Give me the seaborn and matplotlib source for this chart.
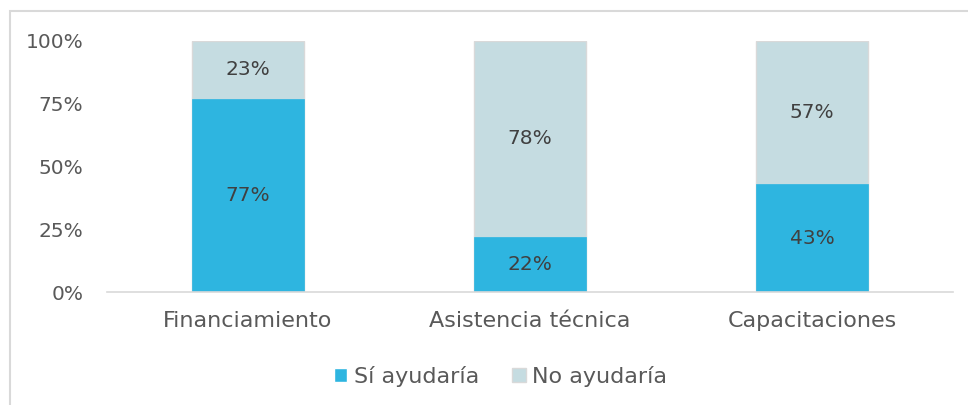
import matplotlib
matplotlib.use("Agg")
import matplotlib.pyplot as plt
import matplotlib.patches as mpatches
import seaborn as sns
import pandas as pd

# Data
categories = ["Financiamiento", "Asistencia técnica", "Capacitaciones"]
si_ayudaria = [77, 22, 43]
no_ayudaria = [23, 78, 57]
y_ticks = [0, 25, 50, 75, 100]

color_si = "#2EB5E0"
color_no = "#C5DCE1"
text_gray = "#595959"

df = pd.DataFrame({"Categoria": categories, "Si": si_ayudaria, "No": no_ayudaria})
df["Total"] = df["Si"] + df["No"]

sns.set_theme(style="white")
plt.rcParams["font.family"] = ["DejaVu Sans"]

fig = plt.figure(figsize=(9.68, 4.05), dpi=100)
ax = fig.add_axes([0.1105, 0.279, 0.874, 0.620])

# stacked bars: draw totals in the light colour, then the "Sí" part on top
sns.barplot(data=df, x="Categoria", y="Total", color=color_no, width=0.40,
            edgecolor="#D9D9D9", linewidth=1, saturation=1, ax=ax)
sns.barplot(data=df, x="Categoria", y="Si", color=color_si, width=0.40,
            edgecolor=color_si, linewidth=0.5, saturation=1, ax=ax)

# labels in the middle of each segment
for i, row in df.iterrows():
    ax.text(i, row["Si"] / 2, f"{row['Si']}%", ha="center", va="center",
            fontsize=14.5, color="#404040")
    ax.text(i, row["Si"] + row["No"] / 2, f"{row['No']}%", ha="center",
            va="center", fontsize=14.5, color="#404040")

ax.set_xlim(-0.5, 2.5)
ax.set_ylim(0, 100)
ax.set_yticks(y_ticks)
ax.set_yticklabels([f"{t}%" for t in y_ticks])
ax.set_xlabel("")
ax.set_ylabel("")
ax.tick_params(axis="y", length=0, pad=17, labelsize=14.5, labelcolor=text_gray)
ax.tick_params(axis="x", length=0, pad=14, labelsize=16, labelcolor=text_gray)

for side in ["top", "right", "left"]:
    ax.spines[side].set_visible(False)
ax.spines["bottom"].set_color("#D9D9D9")
ax.spines["bottom"].set_linewidth(1.2)

handles = [mpatches.Patch(facecolor=color_si, label="Sí ayudaría"),
           mpatches.Patch(facecolor=color_no, edgecolor="#D9D9D9", label="No ayudaría")]
fig.legend(handles=handles, loc="center", bbox_to_anchor=(0.517, 0.0716), ncol=2,
           frameon=False, fontsize=16, labelcolor=text_gray, handlelength=0.6,
           handleheight=0.6, handletextpad=0.3, columnspacing=1.5)

# light frame around the chart area (cut off on the right and bottom)
frame = mpatches.Rectangle((10 / 968, -0.1), 1.2, 1 - 11 / 405 + 0.1,
                           transform=fig.transFigure, fill=False,
                           edgecolor="#D9D9D9", linewidth=1.5)
fig.patches.append(frame)

fig.savefig("out.png", dpi=100)
